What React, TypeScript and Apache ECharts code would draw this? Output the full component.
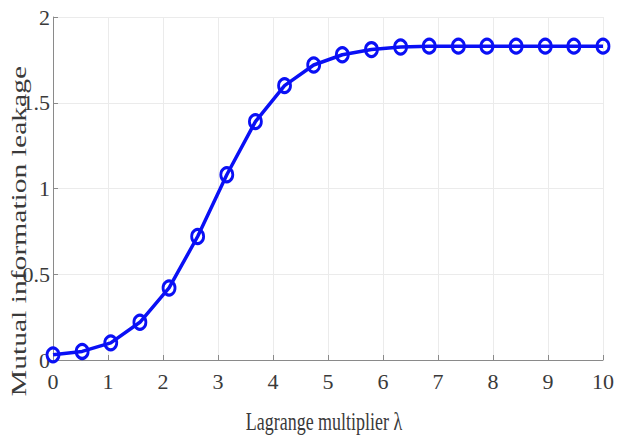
import React, { useEffect, useRef } from "react";
import * as echarts from "echarts";

const lambdaValues = [0, 0.53, 1.05, 1.58, 2.11, 2.63, 3.16, 3.68, 4.21, 4.74, 5.26, 5.79, 6.32, 6.84, 7.37, 7.89, 8.42, 8.95, 9.47, 10];
const leakageValues = [0.03, 0.05, 0.1, 0.22, 0.42, 0.72, 1.08, 1.39, 1.6, 1.72, 1.78, 1.81, 1.825, 1.83, 1.83, 1.83, 1.83, 1.83, 1.83, 1.83];
const xTitle = "Lagrange multiplier λ";
const yTitle = "Mutual information leakage";

export default function App() {
  const ref = useRef<HTMLDivElement>(null);
  useEffect(() => {
    if (!ref.current) return;
    const chart = echarts.init(ref.current, undefined, { renderer: "svg" });
    const serif = "'Liberation Serif', 'Times New Roman', serif";
    const axisGray = "#8a8a8a";
    chart.setOption({
      animation: false,
      backgroundColor: "#ffffff",
      grid: { left: 53, right: 13, top: 17, bottom: 85, containLabel: false },
      xAxis: {
        type: "value",
        min: 0,
        max: 10,
        interval: 1,
        axisLine: { show: true, onZero: false, lineStyle: { color: axisGray, width: 1 } },
        axisTick: { show: true, inside: true, length: 5, lineStyle: { color: axisGray } },
        splitLine: { show: true, lineStyle: { color: "#ebebeb", width: 1 } },
        axisLabel: { fontFamily: serif, fontSize: 22, color: "#3a3a3a", margin: 10 },
      },
      yAxis: {
        type: "value",
        min: 0,
        max: 2,
        interval: 0.5,
        axisLine: { show: true, onZero: false, lineStyle: { color: axisGray, width: 1 } },
        axisTick: { show: true, inside: true, length: 5, lineStyle: { color: axisGray } },
        splitLine: { show: true, lineStyle: { color: "#ebebeb", width: 1 } },
        axisLabel: { fontFamily: serif, fontSize: 22, color: "#3a3a3a", margin: 3 },
      },
      graphic: [
        {
          type: "text",
          x: 324,
          y: 422,
          scaleX: 1,
          scaleY: 1.35,
          style: {
            text: xTitle,
            fontFamily: serif,
            fontSize: 18,
            fill: "#3a3a3a",
            textAlign: "center",
            textVerticalAlign: "middle",
          },
        },
        {
          type: "text",
          x: 19,
          y: 231,
          rotation: Math.PI / 2,
          scaleX: 1.48,
          scaleY: 1,
          style: {
            text: yTitle,
            fontFamily: serif,
            fontSize: 20,
            fill: "#3a3a3a",
            textAlign: "center",
            textVerticalAlign: "middle",
          },
        },
      ],
      series: [
        {
          type: "line",
          data: lambdaValues.map((x, i) => [x, leakageValues[i]]),
          symbol: "circle",
          symbolSize: [12, 14],
          showAllSymbol: true,
          lineStyle: { color: "#0a10f5", width: 3.5 },
          itemStyle: { color: "transparent", borderColor: "#0a10f5", borderWidth: 3 },
          z: 3,
        },
      ],
    });
    return () => chart.dispose();
  }, []);
  return <div ref={ref} style={{ position: "fixed", left: 0, top: 0, width: 617, height: 445 }} />;
}
